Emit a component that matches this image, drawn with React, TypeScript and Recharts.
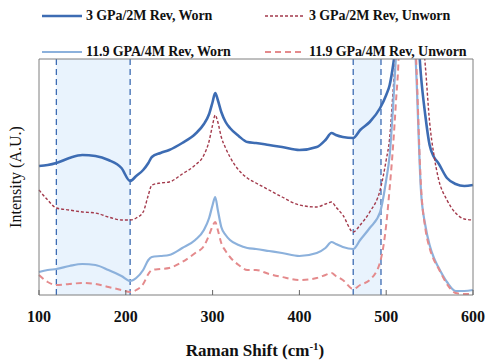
import React from 'react'
import { LineChart, Line, XAxis, YAxis, ReferenceArea, ReferenceLine, Legend, Label } from 'recharts'

// Raman shift (cm-1) sample points
const shift = [
  100, 110, 120, 135, 150, 165, 180, 195, 205, 212, 220, 226, 230, 240, 250, 265, 280, 290, 296, 300,
  303, 306, 310, 315, 320, 330, 340, 350, 365, 380, 400, 420, 430, 437, 442, 450, 462, 470, 481, 493,
  500, 504, 508, 511, 515, 520, 525, 530, 535, 540, 545, 550, 555, 560, 570, 580, 590, 600,
]

// intensity, arbitrary units
const worn3 = [
  129, 130, 132, 137, 140, 139, 135, 127, 114, 119, 125, 132, 138, 142, 145, 152, 161, 171, 181, 193,
  202, 195, 183, 173, 167, 159, 153, 152, 150, 148, 145, 148, 155, 162, 160, 158, 157, 165, 173, 187,
  200, 210, 230, 250, 295, 495, 445, 355, 285, 220, 180, 150, 138, 132, 117, 111, 109, 110,
]
const unworn3 = [
  105, 95, 87, 85, 83, 82, 78, 75, 75, 77, 83, 100, 110, 112, 113, 121, 130, 140, 154, 170,
  180, 173, 158, 147, 138, 125, 117, 112, 105, 98, 90, 88, 91, 93, 88, 80, 63, 70, 83, 105,
  135, 157, 205, 240, 285, 495, 495, 415, 335, 275, 230, 173, 140, 117, 95, 82, 76, 75,
]
const worn119 = [
  23, 25, 26, 29, 31, 30, 25, 19, 14, 17, 25, 35, 38, 39, 40, 47, 55, 65, 77, 90,
  98, 85, 68, 60, 55, 50, 47, 46, 44, 42, 39, 42, 47, 53, 51, 48, 46, 55, 67, 83,
  115, 140, 190, 235, 275, 495, 445, 315, 215, 105, 70, 50, 37, 28, 13, 4, 4, 5,
]
const unworn119 = [
  20, 13, 10, 11, 12, 11, 8, 5, 3, 5, 11, 21, 25, 26, 27, 33, 42, 49, 60, 69,
  73, 65, 52, 44, 38, 30, 25, 25, 21, 18, 15, 17, 20, 22, 19, 15, 6, 10, 15, 33,
  70, 107, 150, 190, 255, 495, 445, 335, 225, 110, 67, 47, 35, 27, 11, 2, 1, 1,
]

const xTicks = [100, 200, 300, 400, 500, 600]
const bandA = [120, 205]
const bandB = [462, 494]

const data = shift.map((s, i) => ({
  shift: s,
  worn3: worn3[i],
  unworn3: unworn3[i],
  worn119: worn119[i],
  unworn119: unworn119[i],
}))

const series = [
  { key: 'worn3', name: '3 GPa/2M Rev, Worn', color: '#3d6cb3', width: 2.6, dash: undefined },
  { key: 'unworn3', name: '3 GPa/2M Rev, Unworn', color: '#a33a4c', width: 1.4, dash: '3 2' },
  { key: 'worn119', name: '11.9 GPA/4M Rev, Worn', color: '#8cb1dc', width: 2.2, dash: undefined },
  { key: 'unworn119', name: '11.9 GPa/4M Rev, Unworn', color: '#e48a8c', width: 2, dash: '6 4' },
]

const serif = '"Liberation Serif", "Times New Roman", serif'

const LegendBox = () => {
  const pos = [
    { x: 42, y: 16 },
    { x: 265, y: 16 },
    { x: 42, y: 52 },
    { x: 265, y: 52 },
  ]
  return (
    <div style={{ position: 'relative', width: 490, height: 62 }}>
      {series.map((s, i) => (
        <div
          key={s.key}
          style={{
            position: 'absolute',
            left: pos[i].x,
            top: pos[i].y - 10,
            height: 20,
            display: 'flex',
            alignItems: 'center',
            whiteSpace: 'nowrap',
          }}
        >
          <svg width={42} height={20}>
            <line x1={0} x2={40} y1={10} y2={10} stroke={s.color} strokeWidth={s.width} strokeDasharray={s.dash} />
          </svg>
          <span style={{ fontFamily: serif, fontWeight: 'bold', fontSize: 14, letterSpacing: -0.1, marginLeft: 2, color: '#111' }}>
            {s.name}
          </span>
        </div>
      ))}
    </div>
  )
}

const XTick = (props: any) => {
  const { x, y, payload } = props
  return (
    <g>
      <line x1={x} x2={x} y1={y} y2={y - 5} stroke="#666" strokeWidth={1} />
      <text x={x} y={y + 27} textAnchor="middle" fontFamily={serif} fontWeight="bold" fontSize={16} fill="#111">
        {payload.value}
      </text>
    </g>
  )
}

const App = () => {
  return (
    <div style={{ position: 'absolute', left: 0, top: 0, background: '#fff' }}>
      <LineChart width={490} height={361} data={data} margin={{ top: 58, right: 16, bottom: 0, left: 0 }}>
        <ReferenceArea x1={bandA[0]} x2={bandA[1]} fill="#e9f3fd" fillOpacity={1} strokeOpacity={0} ifOverflow="hidden" />
        <ReferenceArea x1={bandB[0]} x2={bandB[1]} fill="#e9f3fd" fillOpacity={1} strokeOpacity={0} ifOverflow="hidden" />
        <XAxis
          dataKey="shift"
          type="number"
          domain={[100, 600]}
          ticks={xTicks}
          tickSize={0}
          tickMargin={0}
          tick={<XTick />}
          tickLine={false}
          axisLine={{ stroke: '#7f7f7f' }}
          height={66}
          interval={0}
        >
          <Label
            content={() => (
              <text x={255} y={356} textAnchor="middle" fontFamily={serif} fontWeight="bold" fontSize={17} fill="#111">
                Raman Shift (cm
                <tspan dy={-6} fontSize={11}>-1</tspan>
                <tspan dy={6}>)</tspan>
              </text>
            )}
          />
        </XAxis>
        <XAxis xAxisId="top" orientation="top" type="number" domain={[100, 600]} height={1} tick={false} tickLine={false} axisLine={{ stroke: '#7f7f7f' }} />
        <YAxis
          type="number"
          domain={[0, 236]}
          allowDataOverflow
          width={39}
          tick={false}
          tickLine={false}
          axisLine={{ stroke: '#7f7f7f' }}
        >
          <Label
            content={() => (
              <text x={21} y={177} textAnchor="middle" transform="rotate(-90 21 177)" fontFamily={serif} fontSize={16} fill="#111">
                Intensity (A.U.)
              </text>
            )}
          />
        </YAxis>
        <YAxis yAxisId="right" orientation="right" width={1} tick={false} tickLine={false} axisLine={{ stroke: '#7f7f7f' }} />
        {[...bandA, ...bandB].map((v) => (
          <ReferenceLine key={v} x={v} stroke="#3d6cb3" strokeWidth={1.3} strokeDasharray="6 4" />
        ))}
        {series.map((s) => (
          <Line
            key={s.key}
            dataKey={s.key}
            name={s.name}
            type="monotone"
            stroke={s.color}
            strokeWidth={s.width}
            strokeDasharray={s.dash}
            dot={false}
            activeDot={false}
            isAnimationActive={false}
          />
        ))}
        <Legend
          layout="vertical"
          align="center"
          verticalAlign="middle"
          content={<LegendBox />}
          wrapperStyle={{ top: 0, left: 0, width: 490, height: 62 }}
        />
      </LineChart>
    </div>
  )
}

export default App
